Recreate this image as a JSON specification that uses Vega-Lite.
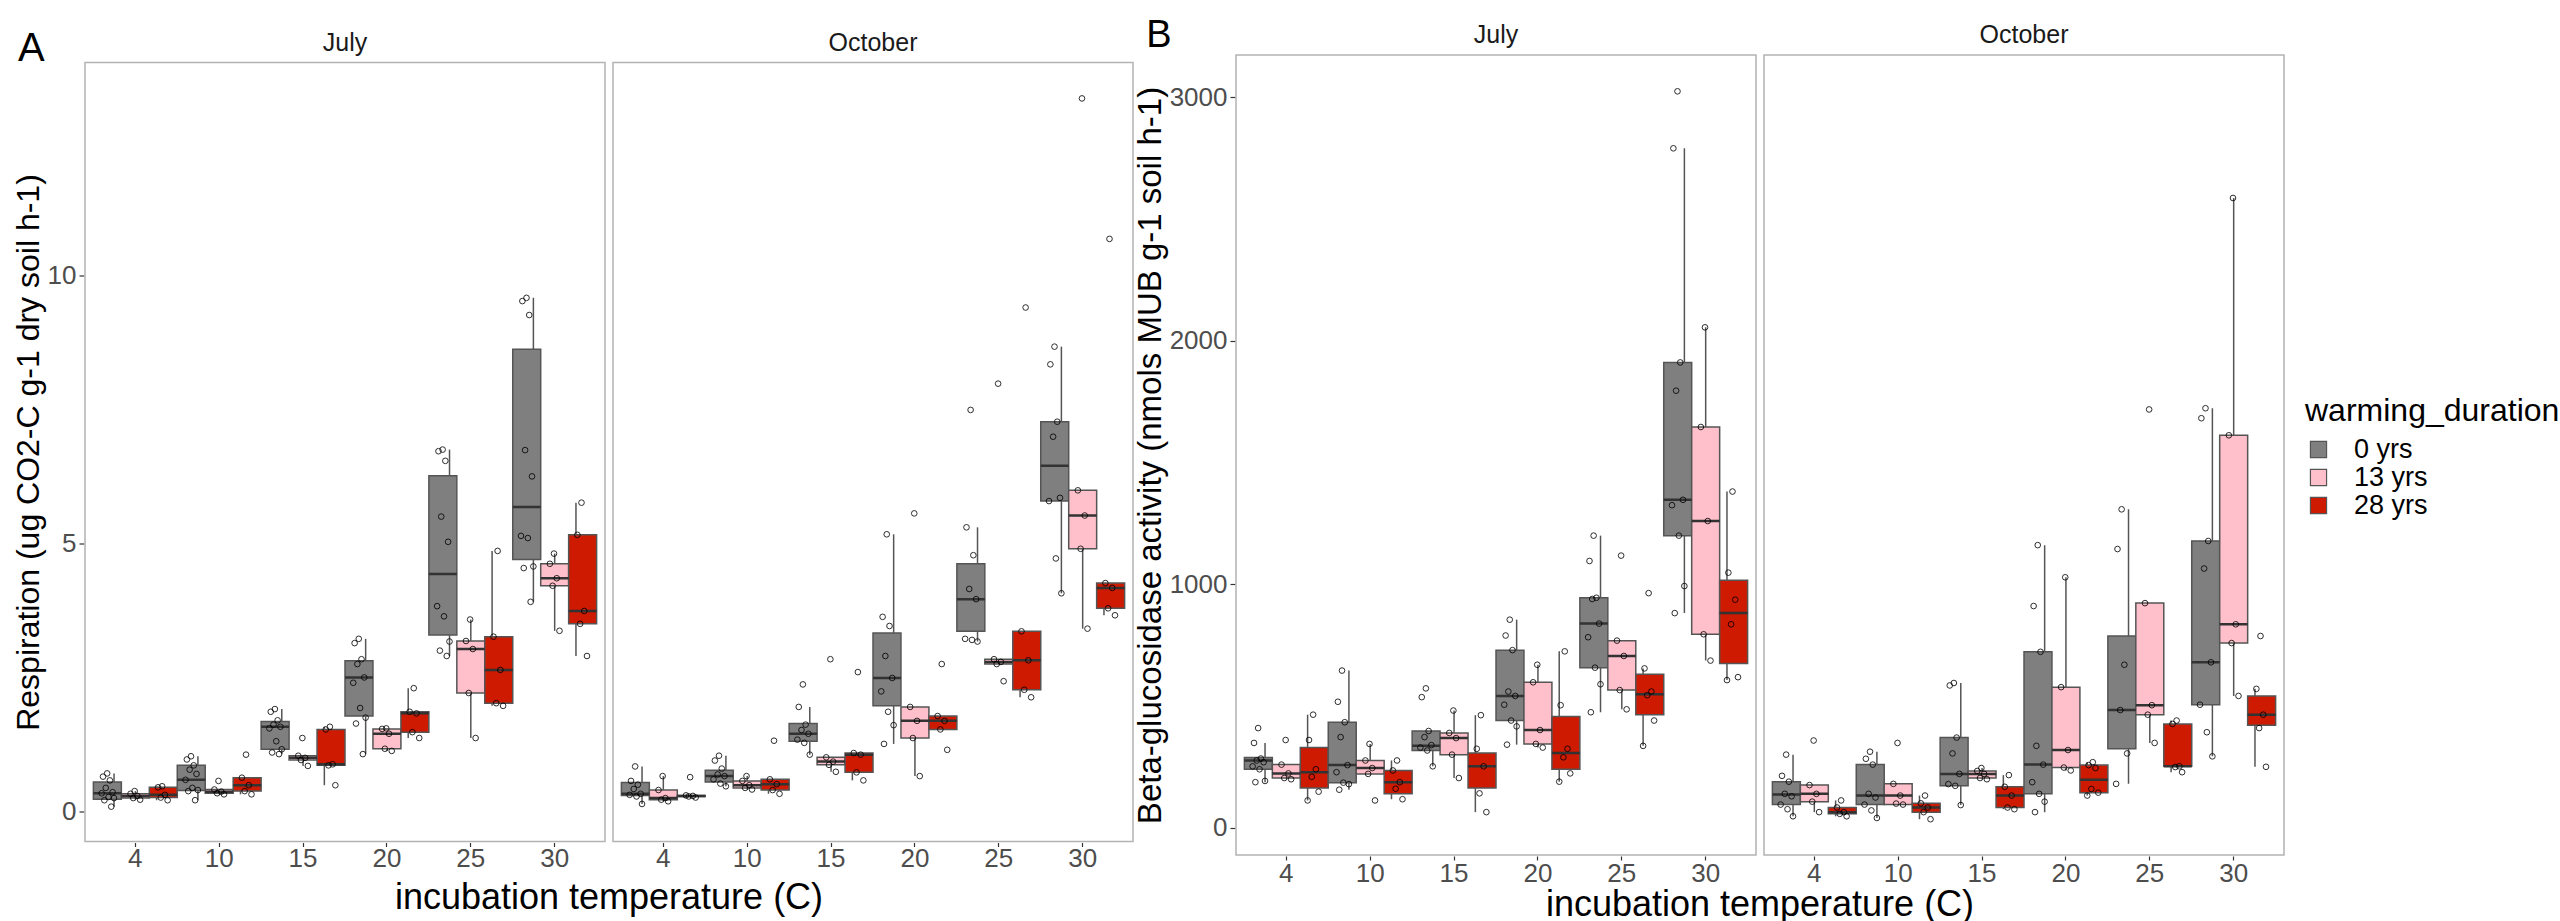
{
 "$schema": "https://vega.github.io/schema/vega-lite/v6.json",
 "background": "white",
 "padding": {"left": 12, "top": 17, "right": 5, "bottom": 2},
 "config": {
  "font": "Liberation Sans",
  "view": {"stroke": "#B3B3B3", "strokeWidth": 1.5},
  "axis": {"grid": false, "domain": false, "tickColor": "#333333", "tickSize": 5, "tickWidth": 1.2, "labelFontSize": 26, "labelColor": "#4D4D4D", "labelPadding": 3, "titleFontSize": 32, "titleFontWeight": "normal", "titleColor": "black", "titlePadding": 2},
  "axisX": {"tickSize": 4},
  "header": {"labelFontSize": 25, "labelColor": "#1A1A1A", "labelPadding": 6, "titleFontSize": 36, "titleFontWeight": "normal", "titleColor": "black", "titlePadding": -1},
  "legend": {"orient": "none", "legendX": 2220, "legendY": 341, "titleFontSize": 32, "titleLimit": 2000, "titleFontWeight": "normal", "titleColor": "black", "labelFontSize": 27, "labelColor": "black", "symbolType": "square", "symbolSize": 260, "symbolStrokeColor": "#555555", "symbolStrokeWidth": 1.2, "rowPadding": 0, "labelOffset": 22, "titlePadding": 8}
 },
 "hconcat": [
  {
   "data": {"name": "A"},
   "title": {"text": "A", "anchor": "start", "frame": "bounds", "fontSize": 40, "fontWeight": "normal", "color": "black", "offset": -38, "dx": 6},
   "facet": {"column": {"field": "month", "type": "nominal", "sort": ["July", "October"], "title": "incubation temperature (C)", "header": {"titleOrient": "bottom", "labelOrient": "top", "titlePadding": -1}}},
   "spacing": 6,
   "spec": {
    "width": 520, "height": 779,
    "encoding": {"x": {"field": "temp", "type": "ordinal", "sort": ["4","10","15","20","25","30"], "scale": {"paddingInner": 0, "paddingOuter": 0.1}, "axis": {"title": null, "labelAngle": 0, "labelPadding": -1}}},
    "layer": [
     {"transform": [{"filter": "isValid(datum.med)"}], "mark": {"type": "rule", "color": "#555555", "strokeWidth": 1.5},
      "encoding": {"xOffset": {"field": "dur", "type": "nominal", "sort": ["0 yrs","13 yrs","28 yrs"], "scale": {"paddingInner": 0.06, "paddingOuter": 0.5}},
       "y": {"field": "lo", "type": "quantitative", "title": "Respiration (ug CO2-C g-1 dry soil h-1)", "scale": {"domain": [-0.56, 13.97], "nice": false, "zero": false}, "axis": {"values": [0, 5, 10]}}, "y2": {"field": "hi"}}},
     {"transform": [{"filter": "isValid(datum.med)"}], "mark": {"type": "bar", "stroke": "#555555", "strokeWidth": 1.5},
      "encoding": {"xOffset": {"field": "dur", "type": "nominal", "sort": ["0 yrs","13 yrs","28 yrs"]},
       "y": {"field": "q1", "type": "quantitative", "title": "Respiration (ug CO2-C g-1 dry soil h-1)"}, "y2": {"field": "q3"},
       "color": {"field": "dur", "type": "nominal", "scale": {"domain": ["0 yrs","13 yrs","28 yrs"], "range": ["#7F7F7F", "#FFC0CB", "#CD1A00"]}, "legend": {"title": "warming_duration"}}}},
     {"transform": [{"filter": "isValid(datum.med)"}], "mark": {"type": "bar", "fillOpacity": 0, "stroke": "#333333", "strokeWidth": 2.5},
      "encoding": {"xOffset": {"field": "dur", "type": "nominal", "sort": ["0 yrs","13 yrs","28 yrs"]},
       "y": {"field": "med", "type": "quantitative", "title": "Respiration (ug CO2-C g-1 dry soil h-1)"}, "y2": {"field": "med"}}},
     {"transform": [{"filter": "isValid(datum.v)"}, {"window": [{"op": "row_number", "as": "rep"}], "groupby": ["month", "temp", "dur"]}, {"calculate": "datum.dur + '|' + datum.rep", "as": "slot"}],
      "mark": {"type": "point", "shape": "circle", "filled": false, "stroke": "black", "strokeWidth": 0.9, "size": 32, "opacity": 0.9},
      "encoding": {"xOffset": {"field": "slot", "type": "nominal", "scale": {"domain": ["0 yrs|a1","0 yrs|a2","0 yrs|a3","0 yrs|a4","0 yrs|a5","0 yrs|6","0 yrs|2","0 yrs|9","0 yrs|4","0 yrs|1","0 yrs|7","0 yrs|3","0 yrs|10","0 yrs|5","0 yrs|8","0 yrs|b1","0 yrs|b2","0 yrs|b3","0 yrs|b4","0 yrs|b5","13 yrs|a1","13 yrs|a2","13 yrs|a3","13 yrs|a4","13 yrs|a5","13 yrs|6","13 yrs|2","13 yrs|9","13 yrs|4","13 yrs|1","13 yrs|7","13 yrs|3","13 yrs|10","13 yrs|5","13 yrs|8","13 yrs|b1","13 yrs|b2","13 yrs|b3","13 yrs|b4","13 yrs|b5","28 yrs|a1","28 yrs|a2","28 yrs|a3","28 yrs|a4","28 yrs|a5","28 yrs|6","28 yrs|2","28 yrs|9","28 yrs|4","28 yrs|1","28 yrs|7","28 yrs|3","28 yrs|10","28 yrs|5","28 yrs|8","28 yrs|b1","28 yrs|b2","28 yrs|b3","28 yrs|b4","28 yrs|b5"], "paddingInner": 0, "paddingOuter": 10}},
       "y": {"field": "v", "type": "quantitative", "title": "Respiration (ug CO2-C g-1 dry soil h-1)"}}}
    ],
    "resolve": {"scale": {"xOffset": "independent"}}
   }
  },
  {
   "data": {"name": "B"},
   "title": {"text": "B", "anchor": "start", "frame": "bounds", "fontSize": 38, "fontWeight": "normal", "color": "black", "offset": -32, "dx": 12},
   "facet": {"column": {"field": "month", "type": "nominal", "sort": ["July", "October"], "title": "incubation temperature (C)", "header": {"titleOrient": "bottom", "labelOrient": "top", "titlePadding": -8}}},
   "spacing": 6,
   "spec": {
    "width": 520, "height": 800,
    "encoding": {"x": {"field": "temp", "type": "ordinal", "sort": ["4","10","15","20","25","30"], "scale": {"paddingInner": 0, "paddingOuter": 0.1}, "axis": {"title": null, "labelAngle": 0, "labelPadding": 0}}},
    "layer": [
     {"transform": [{"filter": "isValid(datum.med)"}], "mark": {"type": "rule", "color": "#555555", "strokeWidth": 1.5},
      "encoding": {"xOffset": {"field": "dur", "type": "nominal", "sort": ["0 yrs","13 yrs","28 yrs"], "scale": {"paddingInner": 0.06, "paddingOuter": 0.5}},
       "y": {"field": "lo", "type": "quantitative", "title": "Beta-glucosidase activity (nmols MUB g-1 soil h-1)", "scale": {"domain": [-111, 3173], "nice": false, "zero": false}, "axis": {"values": [0, 1000, 2000, 3000], "format": "d", "titleFontSize": 33}}, "y2": {"field": "hi"}}},
     {"transform": [{"filter": "isValid(datum.med)"}], "mark": {"type": "bar", "stroke": "#555555", "strokeWidth": 1.5},
      "encoding": {"xOffset": {"field": "dur", "type": "nominal", "sort": ["0 yrs","13 yrs","28 yrs"]},
       "y": {"field": "q1", "type": "quantitative", "title": "Beta-glucosidase activity (nmols MUB g-1 soil h-1)"}, "y2": {"field": "q3"},
       "color": {"field": "dur", "type": "nominal", "scale": {"domain": ["0 yrs","13 yrs","28 yrs"], "range": ["#7F7F7F", "#FFC0CB", "#CD1A00"]}, "legend": {"title": "warming_duration"}}}},
     {"transform": [{"filter": "isValid(datum.med)"}], "mark": {"type": "bar", "fillOpacity": 0, "stroke": "#333333", "strokeWidth": 2.5},
      "encoding": {"xOffset": {"field": "dur", "type": "nominal", "sort": ["0 yrs","13 yrs","28 yrs"]},
       "y": {"field": "med", "type": "quantitative", "title": "Beta-glucosidase activity (nmols MUB g-1 soil h-1)"}, "y2": {"field": "med"}}},
     {"transform": [{"filter": "isValid(datum.v)"}, {"window": [{"op": "row_number", "as": "rep"}], "groupby": ["month", "temp", "dur"]}, {"calculate": "datum.dur + '|' + datum.rep", "as": "slot"}],
      "mark": {"type": "point", "shape": "circle", "filled": false, "stroke": "black", "strokeWidth": 0.9, "size": 32, "opacity": 0.9},
      "encoding": {"xOffset": {"field": "slot", "type": "nominal", "scale": {"domain": ["0 yrs|a1","0 yrs|a2","0 yrs|a3","0 yrs|a4","0 yrs|a5","0 yrs|6","0 yrs|2","0 yrs|9","0 yrs|4","0 yrs|1","0 yrs|7","0 yrs|3","0 yrs|10","0 yrs|5","0 yrs|8","0 yrs|b1","0 yrs|b2","0 yrs|b3","0 yrs|b4","0 yrs|b5","13 yrs|a1","13 yrs|a2","13 yrs|a3","13 yrs|a4","13 yrs|a5","13 yrs|6","13 yrs|2","13 yrs|9","13 yrs|4","13 yrs|1","13 yrs|7","13 yrs|3","13 yrs|10","13 yrs|5","13 yrs|8","13 yrs|b1","13 yrs|b2","13 yrs|b3","13 yrs|b4","13 yrs|b5","28 yrs|a1","28 yrs|a2","28 yrs|a3","28 yrs|a4","28 yrs|a5","28 yrs|6","28 yrs|2","28 yrs|9","28 yrs|4","28 yrs|1","28 yrs|7","28 yrs|3","28 yrs|10","28 yrs|5","28 yrs|8","28 yrs|b1","28 yrs|b2","28 yrs|b3","28 yrs|b4","28 yrs|b5"], "paddingInner": 0, "paddingOuter": 10}},
       "y": {"field": "v", "type": "quantitative", "title": "Beta-glucosidase activity (nmols MUB g-1 soil h-1)"}}}
    ],
    "resolve": {"scale": {"xOffset": "independent"}}
   }
  }
 ],
 "spacing": 0,
 "center": true,
 "datasets": {
  "A": [
   {"month":"July","temp":"4","dur":"0 yrs","lo":0.09,"q1":0.23,"med":0.34,"q3":0.55,"hi":0.71},
   {"month":"July","temp":"4","dur":"13 yrs","lo":0.22,"q1":0.25,"med":0.29,"q3":0.33,"hi":0.38},
   {"month":"July","temp":"4","dur":"28 yrs","lo":0.21,"q1":0.26,"med":0.31,"q3":0.45,"hi":0.47},
   {"month":"July","temp":"10","dur":"0 yrs","lo":0.21,"q1":0.39,"med":0.59,"q3":0.86,"hi":1.03},
   {"month":"July","temp":"10","dur":"13 yrs","lo":0.32,"q1":0.34,"med":0.37,"q3":0.41,"hi":0.41},
   {"month":"July","temp":"10","dur":"28 yrs","lo":0.32,"q1":0.38,"med":0.49,"q3":0.63,"hi":0.63},
   {"month":"July","temp":"15","dur":"0 yrs","lo":1.07,"q1":1.16,"med":1.58,"q3":1.68,"hi":1.91},
   {"month":"July","temp":"15","dur":"13 yrs","lo":0.85,"q1":0.96,"med":1.0,"q3":1.04,"hi":1.04},
   {"month":"July","temp":"15","dur":"28 yrs","lo":0.49,"q1":0.86,"med":0.88,"q3":1.53,"hi":1.58},
   {"month":"July","temp":"20","dur":"0 yrs","lo":1.07,"q1":1.78,"med":2.5,"q3":2.81,"hi":3.22},
   {"month":"July","temp":"20","dur":"13 yrs","lo":1.13,"q1":1.17,"med":1.45,"q3":1.54,"hi":1.55},
   {"month":"July","temp":"20","dur":"28 yrs","lo":1.37,"q1":1.48,"med":1.83,"q3":1.86,"hi":2.3},
   {"month":"July","temp":"25","dur":"0 yrs","lo":2.9,"q1":3.29,"med":4.43,"q3":6.26,"hi":6.75},
   {"month":"July","temp":"25","dur":"13 yrs","lo":1.37,"q1":2.21,"med":3.03,"q3":3.18,"hi":3.58},
   {"month":"July","temp":"25","dur":"28 yrs","lo":1.97,"q1":2.02,"med":2.64,"q3":3.26,"hi":4.86},
   {"month":"July","temp":"30","dur":"0 yrs","lo":3.91,"q1":4.7,"med":5.68,"q3":8.62,"hi":9.58},
   {"month":"July","temp":"30","dur":"13 yrs","lo":3.37,"q1":4.21,"med":4.35,"q3":4.62,"hi":4.81},
   {"month":"July","temp":"30","dur":"28 yrs","lo":2.9,"q1":3.5,"med":3.74,"q3":5.16,"hi":5.76},
   {"month":"October","temp":"4","dur":"0 yrs","lo":0.14,"q1":0.3,"med":0.33,"q3":0.54,"hi":0.84},
   {"month":"October","temp":"4","dur":"13 yrs","lo":0.19,"q1":0.22,"med":0.25,"q3":0.4,"hi":0.66},
   {"month":"October","temp":"4","dur":"28 yrs","lo":0.26,"q1":0.28,"med":0.29,"q3":0.3,"hi":0.3},
   {"month":"October","temp":"10","dur":"0 yrs","lo":0.47,"q1":0.55,"med":0.66,"q3":0.77,"hi":1.04},
   {"month":"October","temp":"10","dur":"13 yrs","lo":0.41,"q1":0.44,"med":0.49,"q3":0.57,"hi":0.66},
   {"month":"October","temp":"10","dur":"28 yrs","lo":0.33,"q1":0.4,"med":0.51,"q3":0.6,"hi":0.6},
   {"month":"October","temp":"15","dur":"0 yrs","lo":1.06,"q1":1.31,"med":1.45,"q3":1.64,"hi":1.95},
   {"month":"October","temp":"15","dur":"13 yrs","lo":0.74,"q1":0.87,"med":0.93,"q3":1.01,"hi":1.01},
   {"month":"October","temp":"15","dur":"28 yrs","lo":0.58,"q1":0.73,"med":1.06,"q3":1.09,"hi":1.09},
   {"month":"October","temp":"20","dur":"0 yrs","lo":1.26,"q1":1.97,"med":2.49,"q3":3.33,"hi":5.17},
   {"month":"October","temp":"20","dur":"13 yrs","lo":0.66,"q1":1.37,"med":1.69,"q3":1.95,"hi":1.95},
   {"month":"October","temp":"20","dur":"28 yrs","lo":1.53,"q1":1.53,"med":1.69,"q3":1.78,"hi":1.78},
   {"month":"October","temp":"25","dur":"0 yrs","lo":3.17,"q1":3.36,"med":3.96,"q3":4.62,"hi":5.3},
   {"month":"October","temp":"25","dur":"13 yrs","lo":2.75,"q1":2.75,"med":2.79,"q3":2.84,"hi":2.84},
   {"month":"October","temp":"25","dur":"28 yrs","lo":2.13,"q1":2.27,"med":2.82,"q3":3.36,"hi":3.36},
   {"month":"October","temp":"30","dur":"0 yrs","lo":4.07,"q1":5.79,"med":6.45,"q3":7.27,"hi":8.67},
   {"month":"October","temp":"30","dur":"13 yrs","lo":3.41,"q1":4.9,"med":5.52,"q3":5.99,"hi":5.99},
   {"month":"October","temp":"30","dur":"28 yrs","lo":3.66,"q1":3.79,"med":4.17,"q3":4.26,"hi":4.26},

   {"month":"July","temp":"4","dur":"0 yrs","v":0.71},{"month":"July","temp":"4","dur":"0 yrs","v":0.65},{"month":"July","temp":"4","dur":"0 yrs","v":0.58},{"month":"July","temp":"4","dur":"0 yrs","v":0.44},{"month":"July","temp":"4","dur":"0 yrs","v":0.36},{"month":"July","temp":"4","dur":"0 yrs","v":0.34},{"month":"July","temp":"4","dur":"0 yrs","v":0.27},{"month":"July","temp":"4","dur":"0 yrs","v":0.25},{"month":"July","temp":"4","dur":"0 yrs","v":0.21},{"month":"July","temp":"4","dur":"0 yrs","v":0.09},
   {"month":"July","temp":"4","dur":"13 yrs","v":0.38},{"month":"July","temp":"4","dur":"13 yrs","v":0.33},{"month":"July","temp":"4","dur":"13 yrs","v":0.29},{"month":"July","temp":"4","dur":"13 yrs","v":0.25},{"month":"July","temp":"4","dur":"13 yrs","v":0.22},
   {"month":"July","temp":"4","dur":"28 yrs","v":0.47},{"month":"July","temp":"4","dur":"28 yrs","v":0.45},{"month":"July","temp":"4","dur":"28 yrs","v":0.31},{"month":"July","temp":"4","dur":"28 yrs","v":0.26},{"month":"July","temp":"4","dur":"28 yrs","v":0.21},
   {"month":"July","temp":"10","dur":"0 yrs","v":1.03},{"month":"July","temp":"10","dur":"0 yrs","v":0.97},{"month":"July","temp":"10","dur":"0 yrs","v":0.86},{"month":"July","temp":"10","dur":"0 yrs","v":0.78},{"month":"July","temp":"10","dur":"0 yrs","v":0.7},{"month":"July","temp":"10","dur":"0 yrs","v":0.59},{"month":"July","temp":"10","dur":"0 yrs","v":0.44},{"month":"July","temp":"10","dur":"0 yrs","v":0.4},{"month":"July","temp":"10","dur":"0 yrs","v":0.38},{"month":"July","temp":"10","dur":"0 yrs","v":0.21},
   {"month":"July","temp":"10","dur":"13 yrs","v":0.57},{"month":"July","temp":"10","dur":"13 yrs","v":0.41},{"month":"July","temp":"10","dur":"13 yrs","v":0.37},{"month":"July","temp":"10","dur":"13 yrs","v":0.34},{"month":"July","temp":"10","dur":"13 yrs","v":0.32},
   {"month":"July","temp":"10","dur":"28 yrs","v":1.06},{"month":"July","temp":"10","dur":"28 yrs","v":0.63},{"month":"July","temp":"10","dur":"28 yrs","v":0.49},{"month":"July","temp":"10","dur":"28 yrs","v":0.38},{"month":"July","temp":"10","dur":"28 yrs","v":0.32},
   {"month":"July","temp":"15","dur":"0 yrs","v":1.91},{"month":"July","temp":"15","dur":"0 yrs","v":1.86},{"month":"July","temp":"15","dur":"0 yrs","v":1.7},{"month":"July","temp":"15","dur":"0 yrs","v":1.62},{"month":"July","temp":"15","dur":"0 yrs","v":1.58},{"month":"July","temp":"15","dur":"0 yrs","v":1.55},{"month":"July","temp":"15","dur":"0 yrs","v":1.31},{"month":"July","temp":"15","dur":"0 yrs","v":1.16},{"month":"July","temp":"15","dur":"0 yrs","v":1.1},{"month":"July","temp":"15","dur":"0 yrs","v":1.07},
   {"month":"July","temp":"15","dur":"13 yrs","v":1.37},{"month":"July","temp":"15","dur":"13 yrs","v":1.04},{"month":"July","temp":"15","dur":"13 yrs","v":1.0},{"month":"July","temp":"15","dur":"13 yrs","v":0.96},{"month":"July","temp":"15","dur":"13 yrs","v":0.85},
   {"month":"July","temp":"15","dur":"28 yrs","v":1.58},{"month":"July","temp":"15","dur":"28 yrs","v":1.53},{"month":"July","temp":"15","dur":"28 yrs","v":0.88},{"month":"July","temp":"15","dur":"28 yrs","v":0.86},{"month":"July","temp":"15","dur":"28 yrs","v":0.49},
   {"month":"July","temp":"20","dur":"0 yrs","v":3.22},{"month":"July","temp":"20","dur":"0 yrs","v":3.14},{"month":"July","temp":"20","dur":"0 yrs","v":2.84},{"month":"July","temp":"20","dur":"0 yrs","v":2.75},{"month":"July","temp":"20","dur":"0 yrs","v":2.5},{"month":"July","temp":"20","dur":"0 yrs","v":2.4},{"month":"July","temp":"20","dur":"0 yrs","v":1.93},{"month":"July","temp":"20","dur":"0 yrs","v":1.75},{"month":"July","temp":"20","dur":"0 yrs","v":1.64},{"month":"July","temp":"20","dur":"0 yrs","v":1.07},
   {"month":"July","temp":"20","dur":"13 yrs","v":1.55},{"month":"July","temp":"20","dur":"13 yrs","v":1.54},{"month":"July","temp":"20","dur":"13 yrs","v":1.45},{"month":"July","temp":"20","dur":"13 yrs","v":1.17},{"month":"July","temp":"20","dur":"13 yrs","v":1.13},
   {"month":"July","temp":"20","dur":"28 yrs","v":2.3},{"month":"July","temp":"20","dur":"28 yrs","v":1.86},{"month":"July","temp":"20","dur":"28 yrs","v":1.83},{"month":"July","temp":"20","dur":"28 yrs","v":1.48},{"month":"July","temp":"20","dur":"28 yrs","v":1.37},
   {"month":"July","temp":"25","dur":"0 yrs","v":6.75},{"month":"July","temp":"25","dur":"0 yrs","v":6.72},{"month":"July","temp":"25","dur":"0 yrs","v":6.54},{"month":"July","temp":"25","dur":"0 yrs","v":5.5},{"month":"July","temp":"25","dur":"0 yrs","v":5.03},{"month":"July","temp":"25","dur":"0 yrs","v":3.83},{"month":"July","temp":"25","dur":"0 yrs","v":3.64},{"month":"July","temp":"25","dur":"0 yrs","v":3.17},{"month":"July","temp":"25","dur":"0 yrs","v":3.0},{"month":"July","temp":"25","dur":"0 yrs","v":2.9},
   {"month":"July","temp":"25","dur":"13 yrs","v":3.58},{"month":"July","temp":"25","dur":"13 yrs","v":3.18},{"month":"July","temp":"25","dur":"13 yrs","v":3.03},{"month":"July","temp":"25","dur":"13 yrs","v":2.21},{"month":"July","temp":"25","dur":"13 yrs","v":1.37},
   {"month":"July","temp":"25","dur":"28 yrs","v":4.86},{"month":"July","temp":"25","dur":"28 yrs","v":3.26},{"month":"July","temp":"25","dur":"28 yrs","v":2.64},{"month":"July","temp":"25","dur":"28 yrs","v":2.02},{"month":"July","temp":"25","dur":"28 yrs","v":1.97},
   {"month":"July","temp":"30","dur":"0 yrs","v":9.58},{"month":"July","temp":"30","dur":"0 yrs","v":9.52},{"month":"July","temp":"30","dur":"0 yrs","v":9.26},{"month":"July","temp":"30","dur":"0 yrs","v":6.74},{"month":"July","temp":"30","dur":"0 yrs","v":6.25},{"month":"July","temp":"30","dur":"0 yrs","v":5.14},{"month":"July","temp":"30","dur":"0 yrs","v":5.1},{"month":"July","temp":"30","dur":"0 yrs","v":4.57},{"month":"July","temp":"30","dur":"0 yrs","v":4.54},{"month":"July","temp":"30","dur":"0 yrs","v":3.91},
   {"month":"July","temp":"30","dur":"13 yrs","v":4.81},{"month":"July","temp":"30","dur":"13 yrs","v":4.62},{"month":"July","temp":"30","dur":"13 yrs","v":4.35},{"month":"July","temp":"30","dur":"13 yrs","v":4.21},{"month":"July","temp":"30","dur":"13 yrs","v":3.37},
   {"month":"July","temp":"30","dur":"28 yrs","v":5.76},{"month":"July","temp":"30","dur":"28 yrs","v":5.16},{"month":"July","temp":"30","dur":"28 yrs","v":3.74},{"month":"July","temp":"30","dur":"28 yrs","v":3.5},{"month":"July","temp":"30","dur":"28 yrs","v":2.9},

   {"month":"October","temp":"4","dur":"0 yrs","v":0.84},{"month":"October","temp":"4","dur":"0 yrs","v":0.57},{"month":"October","temp":"4","dur":"0 yrs","v":0.5},{"month":"October","temp":"4","dur":"0 yrs","v":0.42},{"month":"October","temp":"4","dur":"0 yrs","v":0.33},{"month":"October","temp":"4","dur":"0 yrs","v":0.31},{"month":"October","temp":"4","dur":"0 yrs","v":0.28},{"month":"October","temp":"4","dur":"0 yrs","v":0.14},
   {"month":"October","temp":"4","dur":"13 yrs","v":0.66},{"month":"October","temp":"4","dur":"13 yrs","v":0.4},{"month":"October","temp":"4","dur":"13 yrs","v":0.25},{"month":"October","temp":"4","dur":"13 yrs","v":0.22},{"month":"October","temp":"4","dur":"13 yrs","v":0.19},
   {"month":"October","temp":"4","dur":"28 yrs","v":0.64},{"month":"October","temp":"4","dur":"28 yrs","v":0.3},{"month":"October","temp":"4","dur":"28 yrs","v":0.29},{"month":"October","temp":"4","dur":"28 yrs","v":0.28},{"month":"October","temp":"4","dur":"28 yrs","v":0.26},
   {"month":"October","temp":"10","dur":"0 yrs","v":1.04},{"month":"October","temp":"10","dur":"0 yrs","v":0.95},{"month":"October","temp":"10","dur":"0 yrs","v":0.8},{"month":"October","temp":"10","dur":"0 yrs","v":0.69},{"month":"October","temp":"10","dur":"0 yrs","v":0.66},{"month":"October","temp":"10","dur":"0 yrs","v":0.6},{"month":"October","temp":"10","dur":"0 yrs","v":0.52},{"month":"October","temp":"10","dur":"0 yrs","v":0.47},
   {"month":"October","temp":"10","dur":"13 yrs","v":0.66},{"month":"October","temp":"10","dur":"13 yrs","v":0.57},{"month":"October","temp":"10","dur":"13 yrs","v":0.49},{"month":"October","temp":"10","dur":"13 yrs","v":0.44},{"month":"October","temp":"10","dur":"13 yrs","v":0.41},
   {"month":"October","temp":"10","dur":"28 yrs","v":1.32},{"month":"October","temp":"10","dur":"28 yrs","v":0.6},{"month":"October","temp":"10","dur":"28 yrs","v":0.51},{"month":"October","temp":"10","dur":"28 yrs","v":0.4},{"month":"October","temp":"10","dur":"28 yrs","v":0.33},
   {"month":"October","temp":"15","dur":"0 yrs","v":2.37},{"month":"October","temp":"15","dur":"0 yrs","v":1.95},{"month":"October","temp":"15","dur":"0 yrs","v":1.62},{"month":"October","temp":"15","dur":"0 yrs","v":1.52},{"month":"October","temp":"15","dur":"0 yrs","v":1.45},{"month":"October","temp":"15","dur":"0 yrs","v":1.34},{"month":"October","temp":"15","dur":"0 yrs","v":1.28},{"month":"October","temp":"15","dur":"0 yrs","v":1.06},
   {"month":"October","temp":"15","dur":"13 yrs","v":2.84},{"month":"October","temp":"15","dur":"13 yrs","v":1.01},{"month":"October","temp":"15","dur":"13 yrs","v":0.93},{"month":"October","temp":"15","dur":"13 yrs","v":0.87},{"month":"October","temp":"15","dur":"13 yrs","v":0.74},
   {"month":"October","temp":"15","dur":"28 yrs","v":2.6},{"month":"October","temp":"15","dur":"28 yrs","v":1.09},{"month":"October","temp":"15","dur":"28 yrs","v":1.06},{"month":"October","temp":"15","dur":"28 yrs","v":0.73},{"month":"October","temp":"15","dur":"28 yrs","v":0.58},
   {"month":"October","temp":"20","dur":"0 yrs","v":5.17},{"month":"October","temp":"20","dur":"0 yrs","v":3.63},{"month":"October","temp":"20","dur":"0 yrs","v":3.46},{"month":"October","temp":"20","dur":"0 yrs","v":2.9},{"month":"October","temp":"20","dur":"0 yrs","v":2.49},{"month":"October","temp":"20","dur":"0 yrs","v":2.24},{"month":"October","temp":"20","dur":"0 yrs","v":1.86},{"month":"October","temp":"20","dur":"0 yrs","v":1.61},{"month":"October","temp":"20","dur":"0 yrs","v":1.26},
   {"month":"October","temp":"20","dur":"13 yrs","v":5.56},{"month":"October","temp":"20","dur":"13 yrs","v":1.95},{"month":"October","temp":"20","dur":"13 yrs","v":1.69},{"month":"October","temp":"20","dur":"13 yrs","v":1.37},{"month":"October","temp":"20","dur":"13 yrs","v":0.66},
   {"month":"October","temp":"20","dur":"28 yrs","v":2.75},{"month":"October","temp":"20","dur":"28 yrs","v":1.78},{"month":"October","temp":"20","dur":"28 yrs","v":1.69},{"month":"October","temp":"20","dur":"28 yrs","v":1.53},{"month":"October","temp":"20","dur":"28 yrs","v":1.15},
   {"month":"October","temp":"25","dur":"0 yrs","v":7.49},{"month":"October","temp":"25","dur":"0 yrs","v":5.3},{"month":"October","temp":"25","dur":"0 yrs","v":4.78},{"month":"October","temp":"25","dur":"0 yrs","v":4.15},{"month":"October","temp":"25","dur":"0 yrs","v":3.96},{"month":"October","temp":"25","dur":"0 yrs","v":3.22},{"month":"October","temp":"25","dur":"0 yrs","v":3.2},{"month":"October","temp":"25","dur":"0 yrs","v":3.17},
   {"month":"October","temp":"25","dur":"13 yrs","v":7.98},{"month":"October","temp":"25","dur":"13 yrs","v":2.84},{"month":"October","temp":"25","dur":"13 yrs","v":2.79},{"month":"October","temp":"25","dur":"13 yrs","v":2.75},{"month":"October","temp":"25","dur":"13 yrs","v":2.43},
   {"month":"October","temp":"25","dur":"28 yrs","v":9.4},{"month":"October","temp":"25","dur":"28 yrs","v":3.36},{"month":"October","temp":"25","dur":"28 yrs","v":2.82},{"month":"October","temp":"25","dur":"28 yrs","v":2.27},{"month":"October","temp":"25","dur":"28 yrs","v":2.13},
   {"month":"October","temp":"30","dur":"0 yrs","v":8.67},{"month":"October","temp":"30","dur":"0 yrs","v":8.34},{"month":"October","temp":"30","dur":"0 yrs","v":7.27},{"month":"October","temp":"30","dur":"0 yrs","v":6.99},{"month":"October","temp":"30","dur":"0 yrs","v":5.85},{"month":"October","temp":"30","dur":"0 yrs","v":5.79},{"month":"October","temp":"30","dur":"0 yrs","v":4.72},{"month":"October","temp":"30","dur":"0 yrs","v":4.07},
   {"month":"October","temp":"30","dur":"13 yrs","v":13.3},{"month":"October","temp":"30","dur":"13 yrs","v":5.99},{"month":"October","temp":"30","dur":"13 yrs","v":5.52},{"month":"October","temp":"30","dur":"13 yrs","v":4.9},{"month":"October","temp":"30","dur":"13 yrs","v":3.41},
   {"month":"October","temp":"30","dur":"28 yrs","v":10.68},{"month":"October","temp":"30","dur":"28 yrs","v":4.26},{"month":"October","temp":"30","dur":"28 yrs","v":4.17},{"month":"October","temp":"30","dur":"28 yrs","v":3.79},{"month":"October","temp":"30","dur":"28 yrs","v":3.66}
  ],
  "B": [
   {"month":"July","temp":"4","dur":"0 yrs","lo":188,"q1":241,"med":277,"q3":289,"hi":349},
   {"month":"July","temp":"4","dur":"13 yrs","lo":200,"q1":205,"med":224,"q3":260,"hi":260},
   {"month":"July","temp":"4","dur":"28 yrs","lo":113,"q1":164,"med":229,"q3":330,"hi":465},
   {"month":"July","temp":"10","dur":"0 yrs","lo":157,"q1":186,"med":258,"q3":434,"hi":646},
   {"month":"July","temp":"10","dur":"13 yrs","lo":222,"q1":222,"med":246,"q3":277,"hi":345},
   {"month":"July","temp":"10","dur":"28 yrs","lo":118,"q1":140,"med":188,"q3":236,"hi":277},
   {"month":"July","temp":"15","dur":"0 yrs","lo":253,"q1":318,"med":337,"q3":398,"hi":398},
   {"month":"July","temp":"15","dur":"13 yrs","lo":205,"q1":301,"med":369,"q3":390,"hi":482},
   {"month":"July","temp":"15","dur":"28 yrs","lo":65,"q1":164,"med":253,"q3":308,"hi":463},
   {"month":"July","temp":"20","dur":"0 yrs","lo":342,"q1":441,"med":542,"q3":730,"hi":855},
   {"month":"July","temp":"20","dur":"13 yrs","lo":330,"q1":345,"med":402,"q3":598,"hi":670},
   {"month":"July","temp":"20","dur":"28 yrs","lo":190,"q1":241,"med":308,"q3":458,"hi":725},
   {"month":"July","temp":"25","dur":"0 yrs","lo":475,"q1":658,"med":839,"q3":945,"hi":1200},
   {"month":"July","temp":"25","dur":"13 yrs","lo":487,"q1":566,"med":706,"q3":769,"hi":769},
   {"month":"July","temp":"25","dur":"28 yrs","lo":337,"q1":465,"med":549,"q3":631,"hi":655},
   {"month":"July","temp":"30","dur":"0 yrs","lo":882,"q1":1200,"med":1347,"q3":1911,"hi":2790},
   {"month":"July","temp":"30","dur":"13 yrs","lo":687,"q1":795,"med":1260,"q3":1646,"hi":2055},
   {"month":"July","temp":"30","dur":"28 yrs","lo":607,"q1":675,"med":882,"q3":1017,"hi":1381},
   {"month":"October","temp":"4","dur":"0 yrs","lo":48,"q1":96,"med":137,"q3":190,"hi":301},
   {"month":"October","temp":"4","dur":"13 yrs","lo":65,"q1":108,"med":140,"q3":176,"hi":176},
   {"month":"October","temp":"4","dur":"28 yrs","lo":48,"q1":58,"med":65,"q3":84,"hi":113},
   {"month":"October","temp":"10","dur":"0 yrs","lo":41,"q1":96,"med":133,"q3":260,"hi":313},
   {"month":"October","temp":"10","dur":"13 yrs","lo":96,"q1":96,"med":133,"q3":181,"hi":181},
   {"month":"October","temp":"10","dur":"28 yrs","lo":36,"q1":65,"med":84,"q3":101,"hi":133},
   {"month":"October","temp":"15","dur":"0 yrs","lo":94,"q1":173,"med":222,"q3":371,"hi":595},
   {"month":"October","temp":"15","dur":"13 yrs","lo":200,"q1":205,"med":222,"q3":234,"hi":246},
   {"month":"October","temp":"15","dur":"28 yrs","lo":77,"q1":84,"med":133,"q3":169,"hi":217},
   {"month":"October","temp":"20","dur":"0 yrs","lo":65,"q1":140,"med":260,"q3":723,"hi":1161},
   {"month":"October","temp":"20","dur":"13 yrs","lo":236,"q1":248,"med":320,"q3":578,"hi":1029},
   {"month":"October","temp":"20","dur":"28 yrs","lo":133,"q1":145,"med":198,"q3":258,"hi":270},
   {"month":"October","temp":"25","dur":"0 yrs","lo":181,"q1":325,"med":484,"q3":788,"hi":1308},
   {"month":"October","temp":"25","dur":"13 yrs","lo":349,"q1":465,"med":504,"q3":923,"hi":923},
   {"month":"October","temp":"25","dur":"28 yrs","lo":229,"q1":253,"med":253,"q3":427,"hi":441},
   {"month":"October","temp":"30","dur":"0 yrs","lo":294,"q1":506,"med":680,"q3":1178,"hi":1723},
   {"month":"October","temp":"30","dur":"13 yrs","lo":542,"q1":759,"med":836,"q3":1612,"hi":2586},
   {"month":"October","temp":"30","dur":"28 yrs","lo":251,"q1":422,"med":465,"q3":542,"hi":571},

   {"month":"July","temp":"4","dur":"0 yrs","v":410},{"month":"July","temp":"4","dur":"0 yrs","v":349},{"month":"July","temp":"4","dur":"0 yrs","v":285},{"month":"July","temp":"4","dur":"0 yrs","v":277},{"month":"July","temp":"4","dur":"0 yrs","v":270},{"month":"July","temp":"4","dur":"0 yrs","v":253},{"month":"July","temp":"4","dur":"0 yrs","v":241},{"month":"July","temp":"4","dur":"0 yrs","v":193},{"month":"July","temp":"4","dur":"0 yrs","v":188},
   {"month":"July","temp":"4","dur":"13 yrs","v":361},{"month":"July","temp":"4","dur":"13 yrs","v":260},{"month":"July","temp":"4","dur":"13 yrs","v":224},{"month":"July","temp":"4","dur":"13 yrs","v":205},{"month":"July","temp":"4","dur":"13 yrs","v":200},
   {"month":"July","temp":"4","dur":"28 yrs","v":465},{"month":"July","temp":"4","dur":"28 yrs","v":361},{"month":"July","temp":"4","dur":"28 yrs","v":241},{"month":"July","temp":"4","dur":"28 yrs","v":210},{"month":"July","temp":"4","dur":"28 yrs","v":149},{"month":"July","temp":"4","dur":"28 yrs","v":113},
   {"month":"July","temp":"10","dur":"0 yrs","v":646},{"month":"July","temp":"10","dur":"0 yrs","v":518},{"month":"July","temp":"10","dur":"0 yrs","v":434},{"month":"July","temp":"10","dur":"0 yrs","v":373},{"month":"July","temp":"10","dur":"0 yrs","v":258},{"month":"July","temp":"10","dur":"0 yrs","v":229},{"month":"July","temp":"10","dur":"0 yrs","v":186},{"month":"July","temp":"10","dur":"0 yrs","v":180},{"month":"July","temp":"10","dur":"0 yrs","v":157},
   {"month":"July","temp":"10","dur":"13 yrs","v":345},{"month":"July","temp":"10","dur":"13 yrs","v":277},{"month":"July","temp":"10","dur":"13 yrs","v":246},{"month":"July","temp":"10","dur":"13 yrs","v":222},{"month":"July","temp":"10","dur":"13 yrs","v":113},
   {"month":"July","temp":"10","dur":"28 yrs","v":277},{"month":"July","temp":"10","dur":"28 yrs","v":236},{"month":"July","temp":"10","dur":"28 yrs","v":188},{"month":"July","temp":"10","dur":"28 yrs","v":161},{"month":"July","temp":"10","dur":"28 yrs","v":118},
   {"month":"July","temp":"15","dur":"0 yrs","v":573},{"month":"July","temp":"15","dur":"0 yrs","v":537},{"month":"July","temp":"15","dur":"0 yrs","v":398},{"month":"July","temp":"15","dur":"0 yrs","v":373},{"month":"July","temp":"15","dur":"0 yrs","v":340},{"month":"July","temp":"15","dur":"0 yrs","v":330},{"month":"July","temp":"15","dur":"0 yrs","v":318},{"month":"July","temp":"15","dur":"0 yrs","v":253},
   {"month":"July","temp":"15","dur":"13 yrs","v":482},{"month":"July","temp":"15","dur":"13 yrs","v":390},{"month":"July","temp":"15","dur":"13 yrs","v":369},{"month":"July","temp":"15","dur":"13 yrs","v":301},{"month":"July","temp":"15","dur":"13 yrs","v":205},
   {"month":"July","temp":"15","dur":"28 yrs","v":463},{"month":"July","temp":"15","dur":"28 yrs","v":325},{"month":"July","temp":"15","dur":"28 yrs","v":253},{"month":"July","temp":"15","dur":"28 yrs","v":142},{"month":"July","temp":"15","dur":"28 yrs","v":65},
   {"month":"July","temp":"20","dur":"0 yrs","v":855},{"month":"July","temp":"20","dur":"0 yrs","v":790},{"month":"July","temp":"20","dur":"0 yrs","v":730},{"month":"July","temp":"20","dur":"0 yrs","v":560},{"month":"July","temp":"20","dur":"0 yrs","v":542},{"month":"July","temp":"20","dur":"0 yrs","v":506},{"month":"July","temp":"20","dur":"0 yrs","v":441},{"month":"July","temp":"20","dur":"0 yrs","v":417},{"month":"July","temp":"20","dur":"0 yrs","v":342},
   {"month":"July","temp":"20","dur":"13 yrs","v":670},{"month":"July","temp":"20","dur":"13 yrs","v":598},{"month":"July","temp":"20","dur":"13 yrs","v":402},{"month":"July","temp":"20","dur":"13 yrs","v":345},{"month":"July","temp":"20","dur":"13 yrs","v":330},
   {"month":"July","temp":"20","dur":"28 yrs","v":725},{"month":"July","temp":"20","dur":"28 yrs","v":504},{"month":"July","temp":"20","dur":"28 yrs","v":325},{"month":"July","temp":"20","dur":"28 yrs","v":290},{"month":"July","temp":"20","dur":"28 yrs","v":224},{"month":"July","temp":"20","dur":"28 yrs","v":190},
   {"month":"July","temp":"25","dur":"0 yrs","v":1200},{"month":"July","temp":"25","dur":"0 yrs","v":1096},{"month":"July","temp":"25","dur":"0 yrs","v":945},{"month":"July","temp":"25","dur":"0 yrs","v":940},{"month":"July","temp":"25","dur":"0 yrs","v":839},{"month":"July","temp":"25","dur":"0 yrs","v":783},{"month":"July","temp":"25","dur":"0 yrs","v":658},{"month":"July","temp":"25","dur":"0 yrs","v":590},{"month":"July","temp":"25","dur":"0 yrs","v":475},
   {"month":"July","temp":"25","dur":"13 yrs","v":1118},{"month":"July","temp":"25","dur":"13 yrs","v":769},{"month":"July","temp":"25","dur":"13 yrs","v":706},{"month":"July","temp":"25","dur":"13 yrs","v":566},{"month":"July","temp":"25","dur":"13 yrs","v":487},
   {"month":"July","temp":"25","dur":"28 yrs","v":964},{"month":"July","temp":"25","dur":"28 yrs","v":655},{"month":"July","temp":"25","dur":"28 yrs","v":560},{"month":"July","temp":"25","dur":"28 yrs","v":545},{"month":"July","temp":"25","dur":"28 yrs","v":441},{"month":"July","temp":"25","dur":"28 yrs","v":337},
   {"month":"July","temp":"30","dur":"0 yrs","v":3024},{"month":"July","temp":"30","dur":"0 yrs","v":2790},{"month":"July","temp":"30","dur":"0 yrs","v":1911},{"month":"July","temp":"30","dur":"0 yrs","v":1795},{"month":"July","temp":"30","dur":"0 yrs","v":1347},{"month":"July","temp":"30","dur":"0 yrs","v":1325},{"month":"July","temp":"30","dur":"0 yrs","v":1200},{"month":"July","temp":"30","dur":"0 yrs","v":993},{"month":"July","temp":"30","dur":"0 yrs","v":882},
   {"month":"July","temp":"30","dur":"13 yrs","v":2055},{"month":"July","temp":"30","dur":"13 yrs","v":1646},{"month":"July","temp":"30","dur":"13 yrs","v":1260},{"month":"July","temp":"30","dur":"13 yrs","v":795},{"month":"July","temp":"30","dur":"13 yrs","v":687},
   {"month":"July","temp":"30","dur":"28 yrs","v":1381},{"month":"July","temp":"30","dur":"28 yrs","v":1048},{"month":"July","temp":"30","dur":"28 yrs","v":937},{"month":"July","temp":"30","dur":"28 yrs","v":836},{"month":"July","temp":"30","dur":"28 yrs","v":619},{"month":"July","temp":"30","dur":"28 yrs","v":607},

   {"month":"October","temp":"4","dur":"0 yrs","v":301},{"month":"October","temp":"4","dur":"0 yrs","v":214},{"month":"October","temp":"4","dur":"0 yrs","v":190},{"month":"October","temp":"4","dur":"0 yrs","v":140},{"month":"October","temp":"4","dur":"0 yrs","v":130},{"month":"October","temp":"4","dur":"0 yrs","v":96},{"month":"October","temp":"4","dur":"0 yrs","v":77},{"month":"October","temp":"4","dur":"0 yrs","v":48},
   {"month":"October","temp":"4","dur":"13 yrs","v":359},{"month":"October","temp":"4","dur":"13 yrs","v":176},{"month":"October","temp":"4","dur":"13 yrs","v":140},{"month":"October","temp":"4","dur":"13 yrs","v":108},{"month":"October","temp":"4","dur":"13 yrs","v":65},
   {"month":"October","temp":"4","dur":"28 yrs","v":113},{"month":"October","temp":"4","dur":"28 yrs","v":84},{"month":"October","temp":"4","dur":"28 yrs","v":65},{"month":"October","temp":"4","dur":"28 yrs","v":58},{"month":"October","temp":"4","dur":"28 yrs","v":48},
   {"month":"October","temp":"10","dur":"0 yrs","v":313},{"month":"October","temp":"10","dur":"0 yrs","v":284},{"month":"October","temp":"10","dur":"0 yrs","v":260},{"month":"October","temp":"10","dur":"0 yrs","v":140},{"month":"October","temp":"10","dur":"0 yrs","v":125},{"month":"October","temp":"10","dur":"0 yrs","v":96},{"month":"October","temp":"10","dur":"0 yrs","v":72},{"month":"October","temp":"10","dur":"0 yrs","v":41},
   {"month":"October","temp":"10","dur":"13 yrs","v":349},{"month":"October","temp":"10","dur":"13 yrs","v":181},{"month":"October","temp":"10","dur":"13 yrs","v":133},{"month":"October","temp":"10","dur":"13 yrs","v":100},{"month":"October","temp":"10","dur":"13 yrs","v":96},
   {"month":"October","temp":"10","dur":"28 yrs","v":133},{"month":"October","temp":"10","dur":"28 yrs","v":101},{"month":"October","temp":"10","dur":"28 yrs","v":84},{"month":"October","temp":"10","dur":"28 yrs","v":65},{"month":"October","temp":"10","dur":"28 yrs","v":36},
   {"month":"October","temp":"15","dur":"0 yrs","v":595},{"month":"October","temp":"15","dur":"0 yrs","v":585},{"month":"October","temp":"15","dur":"0 yrs","v":371},{"month":"October","temp":"15","dur":"0 yrs","v":306},{"month":"October","temp":"15","dur":"0 yrs","v":222},{"month":"October","temp":"15","dur":"0 yrs","v":180},{"month":"October","temp":"15","dur":"0 yrs","v":173},{"month":"October","temp":"15","dur":"0 yrs","v":94},
   {"month":"October","temp":"15","dur":"13 yrs","v":246},{"month":"October","temp":"15","dur":"13 yrs","v":234},{"month":"October","temp":"15","dur":"13 yrs","v":222},{"month":"October","temp":"15","dur":"13 yrs","v":205},{"month":"October","temp":"15","dur":"13 yrs","v":200},
   {"month":"October","temp":"15","dur":"28 yrs","v":217},{"month":"October","temp":"15","dur":"28 yrs","v":169},{"month":"October","temp":"15","dur":"28 yrs","v":133},{"month":"October","temp":"15","dur":"28 yrs","v":84},{"month":"October","temp":"15","dur":"28 yrs","v":77},
   {"month":"October","temp":"20","dur":"0 yrs","v":1161},{"month":"October","temp":"20","dur":"0 yrs","v":911},{"month":"October","temp":"20","dur":"0 yrs","v":723},{"month":"October","temp":"20","dur":"0 yrs","v":337},{"month":"October","temp":"20","dur":"0 yrs","v":260},{"month":"October","temp":"20","dur":"0 yrs","v":188},{"month":"October","temp":"20","dur":"0 yrs","v":140},{"month":"October","temp":"20","dur":"0 yrs","v":108},{"month":"October","temp":"20","dur":"0 yrs","v":65},
   {"month":"October","temp":"20","dur":"13 yrs","v":1029},{"month":"October","temp":"20","dur":"13 yrs","v":578},{"month":"October","temp":"20","dur":"13 yrs","v":320},{"month":"October","temp":"20","dur":"13 yrs","v":248},{"month":"October","temp":"20","dur":"13 yrs","v":236},
   {"month":"October","temp":"20","dur":"28 yrs","v":270},{"month":"October","temp":"20","dur":"28 yrs","v":258},{"month":"October","temp":"20","dur":"28 yrs","v":246},{"month":"October","temp":"20","dur":"28 yrs","v":160},{"month":"October","temp":"20","dur":"28 yrs","v":145},{"month":"October","temp":"20","dur":"28 yrs","v":133},
   {"month":"October","temp":"25","dur":"0 yrs","v":1308},{"month":"October","temp":"25","dur":"0 yrs","v":1145},{"month":"October","temp":"25","dur":"0 yrs","v":670},{"month":"October","temp":"25","dur":"0 yrs","v":484},{"month":"October","temp":"25","dur":"0 yrs","v":306},{"month":"October","temp":"25","dur":"0 yrs","v":181},
   {"month":"October","temp":"25","dur":"13 yrs","v":1718},{"month":"October","temp":"25","dur":"13 yrs","v":923},{"month":"October","temp":"25","dur":"13 yrs","v":504},{"month":"October","temp":"25","dur":"13 yrs","v":465},{"month":"October","temp":"25","dur":"13 yrs","v":349},
   {"month":"October","temp":"25","dur":"28 yrs","v":441},{"month":"October","temp":"25","dur":"28 yrs","v":427},{"month":"October","temp":"25","dur":"28 yrs","v":253},{"month":"October","temp":"25","dur":"28 yrs","v":250},{"month":"October","temp":"25","dur":"28 yrs","v":229},
   {"month":"October","temp":"30","dur":"0 yrs","v":1723},{"month":"October","temp":"30","dur":"0 yrs","v":1682},{"month":"October","temp":"30","dur":"0 yrs","v":1178},{"month":"October","temp":"30","dur":"0 yrs","v":1065},{"month":"October","temp":"30","dur":"0 yrs","v":680},{"month":"October","temp":"30","dur":"0 yrs","v":506},{"month":"October","temp":"30","dur":"0 yrs","v":393},{"month":"October","temp":"30","dur":"0 yrs","v":294},
   {"month":"October","temp":"30","dur":"13 yrs","v":2586},{"month":"October","temp":"30","dur":"13 yrs","v":1612},{"month":"October","temp":"30","dur":"13 yrs","v":836},{"month":"October","temp":"30","dur":"13 yrs","v":759},{"month":"October","temp":"30","dur":"13 yrs","v":542},
   {"month":"October","temp":"30","dur":"28 yrs","v":788},{"month":"October","temp":"30","dur":"28 yrs","v":571},{"month":"October","temp":"30","dur":"28 yrs","v":465},{"month":"October","temp":"30","dur":"28 yrs","v":410},{"month":"October","temp":"30","dur":"28 yrs","v":251}
  ]
 }
}
